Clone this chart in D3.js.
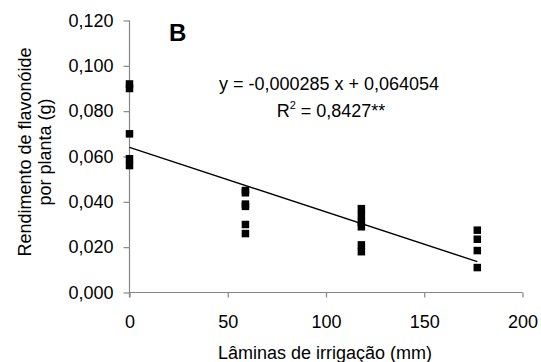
<!DOCTYPE html>
<html><head><meta charset="utf-8">
<script src="https://cdn.jsdelivr.net/npm/d3@7"></script>
<style>body{margin:0;background:#fff}svg{display:block}text{font-family:"Liberation Sans",Arial,sans-serif;fill:#000}</style>
</head><body><svg id="c" width="541" height="362"></svg>
<script>
const xLevels = [0, 59, 118, 177];
const yAt0   = [0.092, 0.090, 0.070, 0.059, 0.056];
const yAt59  = [0.045, 0.044, 0.039, 0.038, 0.030, 0.026];
const yAt118 = [0.037, 0.034, 0.031, 0.029, 0.021, 0.018];
const yAt177 = [0.0275, 0.0235, 0.0185, 0.011];
const xTicks = [0, 50, 100, 150, 200];
const yTicks = [0, 0.02, 0.04, 0.06, 0.08, 0.10, 0.12];
const slope = -0.000285, intercept = 0.064054;

const groups = [yAt0, yAt59, yAt118, yAt177];
const points = [];
groups.forEach((g, i) => g.forEach(v => points.push({x: xLevels[i], y: v})));

const svg = d3.select("#c");
const FS = 18;
const m = {l: 129.5, r: 522.5, t: 20.5, b: 292.5};
const x = d3.scaleLinear().domain([0, 200]).range([m.l, m.r]);
const y = d3.scaleLinear().domain([0, 0.12]).range([m.b, m.t]);
const fmt = d => d3.format(".3f")(d).replace(".", ",");

const ax = svg.append("g").attr("transform", `translate(0,${m.b})`)
  .call(d3.axisBottom(x).tickValues(xTicks).tickSize(5).tickPadding(18).tickFormat(d3.format("d")));
const ay = svg.append("g").attr("transform", `translate(${m.l},0)`)
  .call(d3.axisLeft(y).tickValues(yTicks).tickSize(6).tickPadding(10).tickFormat(fmt));
[ax, ay].forEach(a => {
  a.select(".domain").remove();
  a.selectAll("line").attr("stroke", "#868686").attr("stroke-width", 1.2);
  a.selectAll("text").attr("font-size", FS).attr("font-family", "Liberation Sans, Arial, sans-serif").attr("fill", "#000");
});
svg.append("line").attr("x1", m.l).attr("x2", m.r).attr("y1", m.b).attr("y2", m.b).attr("stroke", "#868686").attr("stroke-width", 1.2);
svg.append("line").attr("x1", m.l).attr("x2", m.l).attr("y1", m.t).attr("y2", m.b + 5).attr("stroke", "#868686").attr("stroke-width", 1.2);

// regression line
svg.append("line")
  .attr("x1", x(0)).attr("y1", y(intercept))
  .attr("x2", x(177)).attr("y2", y(intercept + slope * 177))
  .attr("stroke", "#000").attr("stroke-width", 1.4);

const s = 7.5;
svg.append("g").selectAll("rect").data(points).join("rect")
  .attr("x", d => x(d.x) - s / 2).attr("y", d => y(d.y) - s / 2)
  .attr("width", s).attr("height", s).attr("fill", "#000");

svg.append("text").attr("x", 169).attr("y", 41).attr("font-size", 24).attr("font-weight", "bold").text("B");

svg.append("text").attr("x", 329).attr("y", 90).attr("text-anchor", "middle").attr("font-size", FS)
  .text("y = -0,000285 x + 0,064054");
const r2 = svg.append("text").attr("x", 331).attr("y", 117).attr("text-anchor", "middle").attr("font-size", FS);
r2.append("tspan").text("R");
r2.append("tspan").attr("dy", -8).attr("font-size", 11).text("2");
r2.append("tspan").attr("dy", 8).text(" = 0,8427**");

svg.append("text").attr("x", 325).attr("y", 359).attr("text-anchor", "middle").attr("font-size", FS)
  .text("Lâminas de irrigação (mm)");
const yl = svg.append("text").attr("transform", "translate(0,152) rotate(-90)").attr("text-anchor", "middle").attr("font-size", FS);
yl.append("tspan").attr("x", 0).attr("y", 31).text("Rendimento de flavonóide");
yl.append("tspan").attr("x", 0).attr("y", 51).text("por planta (g)");
</script></body></html>
